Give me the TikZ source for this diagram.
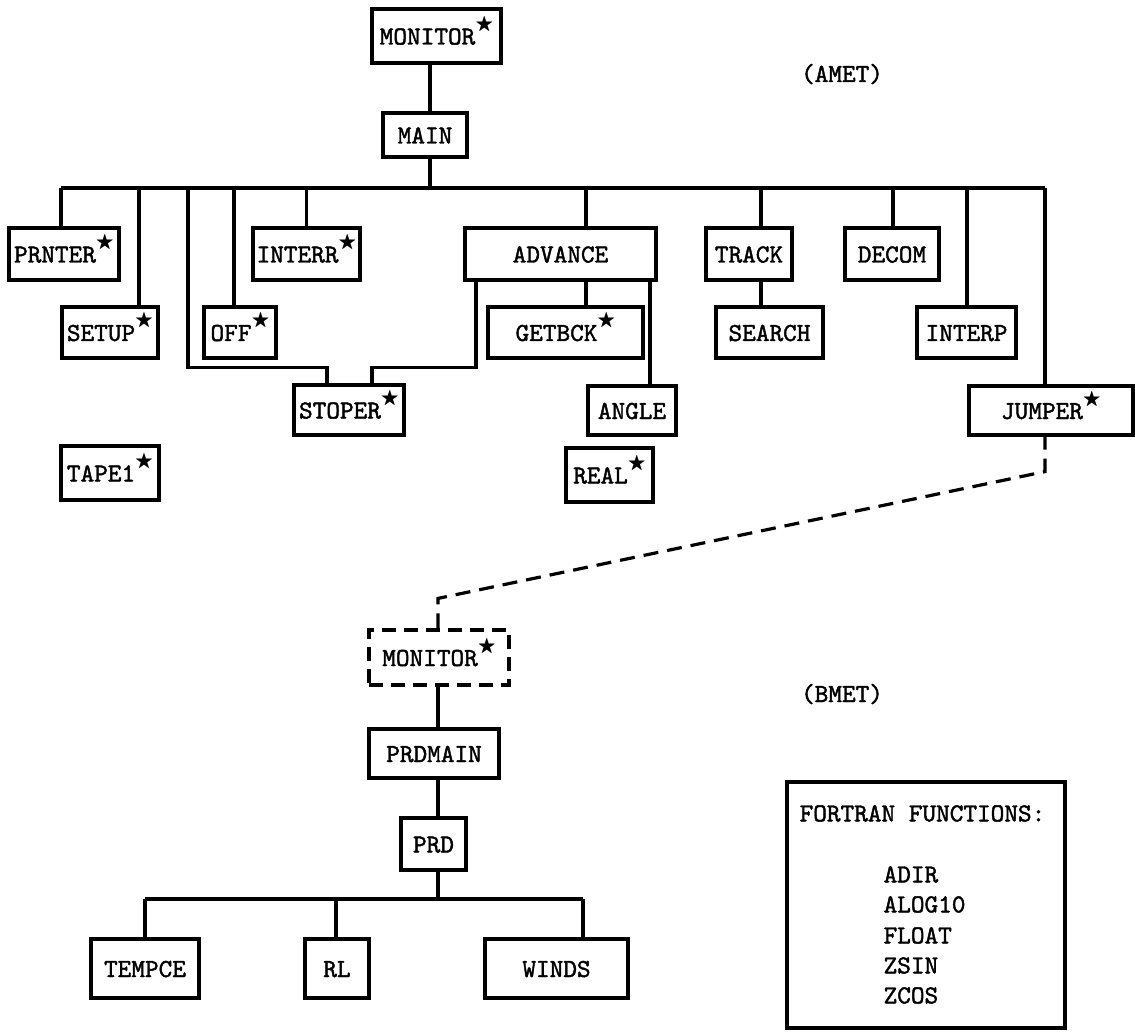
\documentclass[tikz,border=0pt]{standalone}
\usepackage{amssymb}
\usepackage{fontspec}
\newfontfamily\twfont{lmmono10-regular.otf}[FakeBold=1.6]
\newcommand\mytt{\fontsize{26}{30}\selectfont\twfont}
\newcommand\stmark{\raisebox{15pt}{\fontsize{19}{19}\selectfont$\bigstar$}}
\tikzset{
  box/.style={draw, line width=3.2pt, rectangle, inner sep=0pt,
    text height=17pt, text depth=0pt, font=\mytt},
  sz/.style 2 args={minimum width=#1pt, minimum height=#2pt},
  conn/.style={line width=3.2pt},
  dsh/.style={line width=3.2pt, dash pattern=on 15pt off 9pt},
  lbl/.style={font=\mytt, inner sep=0pt, anchor=base},
  fline/.style={font=\mytt, inner sep=0pt, anchor=base west},
}
\begin{document}
\begin{tikzpicture}[x=1pt,y=-1pt]
\useasboundingbox (0,0) rectangle (1135,1032);
% ---------- AMET ----------
\node[box, sz={129}{54}] (mon1) at (436.5,36) {MONITOR\stmark};
\node[box, sz={84}{44}] (main) at (425,135) {MAIN};
\node[lbl] (amet) at (842,82) {(AMET)};
\node[box, sz={110}{52}] (prnter) at (64,254) {PRNTER\stmark};
\node[box, sz={107}{52}] (interr) at (306.5,254) {INTERR\stmark};
\node[box, sz={191}{52}] (adv) at (560.5,254) {ADVANCE};
\node[box, sz={86}{52}] (track) at (749,254) {TRACK};
\node[box, sz={94}{52}] (decom) at (892,254) {DECOM};
\node[box, sz={96}{51}] (setup) at (110,332.5) {SETUP\stmark};
\node[box, sz={72}{51}] (off) at (240,332.5) {OFF\stmark};
\node[box, sz={155}{51}] (getbck) at (565.5,332.5) {GETBCK\stmark};
\node[box, sz={107}{51}] (search) at (769.5,332.5) {SEARCH};
\node[box, sz={99}{51}] (interp) at (966.5,332.5) {INTERP};
\node[box, sz={110}{50}] (stoper) at (349,410) {STOPER\stmark};
\node[box, sz={88}{49}] (angle) at (632,410.5) {ANGLE};
\node[box, sz={164}{49}] (jumper) at (1051,410.5) {JUMPER\stmark};
\node[box, sz={98}{54}] (tape) at (110,473) {TAPE1\stmark};
\node[box, sz={87}{54}] (real) at (609.5,475) {REAL\stmark};
\coordinate (b1L) at (61,188);
\coordinate (b1R) at (1045,188);
\coordinate (b1a) at (188,188);
\draw[conn] ([xshift=5pt]main.north) -- ([xshift=5pt]main.north |- mon1.south);
\draw[conn] ([xshift=5pt]main.south) -- ([xshift=5pt]main.south |- b1L);
\draw[conn] (b1L) -- (b1R);
\draw[conn] (b1L) -- (b1L |- prnter.north);
\draw[conn] ([xshift=29pt]setup.north) -- ([xshift=29pt]setup.north |- b1L);
\draw[conn] ([xshift=-6pt]off.north) -- ([xshift=-6pt]off.north |- b1L);
\draw[conn] ([xshift=-22pt]stoper.north) -- ++(0,-16) -| (b1a);
\draw[conn] ([xshift=23pt]stoper.north) -- ++(0,-16) -| ([xshift=-84.5pt]adv.south);
\draw[conn] (interr.north) -- (interr.north |- b1L);
\draw[conn] ([xshift=25.5pt]adv.north) -- ([xshift=25.5pt]adv.north |- b1L);
\draw[conn] ([xshift=20.5pt]getbck.north) -- ([xshift=20.5pt]getbck.north |- adv.south);
\draw[conn] ([xshift=18pt]angle.north) -- ([xshift=18pt]angle.north |- adv.south);
\draw[conn] ([xshift=12pt]track.north) -- ([xshift=12pt]track.north |- b1L);
\draw[conn] ([xshift=-8.5pt]search.north) -- ([xshift=-8.5pt]search.north |- track.south);
\draw[conn] ([xshift=1pt]decom.north) -- ([xshift=1pt]decom.north |- b1L);
\draw[conn] ([xshift=0.5pt]interp.north) -- ([xshift=0.5pt]interp.north |- b1L);
\draw[conn] ([xshift=-6pt]jumper.north) -- (b1R);
% ---------- BMET ----------
\node[box, sz={140}{55}, dash pattern=on 14pt off 8pt] (mon2) at (439,657.5) {MONITOR\stmark};
\node[lbl] (bmet) at (842,702) {(BMET)};
\node[box, sz={130}{49}] (prdmain) at (434,753.5) {PRDMAIN};
\node[box, sz={65}{52}] (prd) at (433.5,844) {PRD};
\node[box, sz={108}{59}] (tempce) at (145,968.5) {TEMPCE};
\node[box, sz={64}{59}] (rl) at (337,968.5) {RL};
\node[box, sz={143}{59}] (winds) at (556.5,968.5) {WINDS};
\draw[dsh] ([xshift=-1pt]mon2.north) -- ++(0,-30) -- ([xshift=-6pt,yshift=-35pt]jumper.south) -- ([xshift=-6pt]jumper.south);
\coordinate (b2L) at (145,899);
\coordinate (b2R) at (583,899);
\draw[conn] ([xshift=4pt]prdmain.north) -- ([xshift=4pt]prdmain.north |- mon2.south);
\draw[conn] ([xshift=4.5pt]prd.north) -- ([xshift=4.5pt]prd.north |- prdmain.south);
\draw[conn] ([xshift=4.5pt]prd.south) -- ([xshift=4.5pt]prd.south |- b2L);
\draw[conn] (b2L) -- (b2R);
\draw[conn] (tempce.north) -- (b2L);
\draw[conn] ([xshift=-1pt]rl.north) -- ([xshift=-1pt]rl.north |- b2L);
\draw[conn] ([xshift=26.5pt]winds.north) -- (b2R);
% ---------- Fortran functions ----------
\node[draw, line width=3.2pt, sz={278}{246}] (fbox) at (926,905) {};
\node[fline] (ftitle) at ([xshift=14pt,yshift=-41pt]fbox.north west) {FORTRAN FUNCTIONS:};
\node[fline] (f1) at ([xshift=98pt,yshift=-102pt]fbox.north west) {ADIR};
\node[fline] (f2) at ([xshift=98pt,yshift=-132pt]fbox.north west) {ALOG10};
\node[fline] (f3) at ([xshift=98pt,yshift=-163pt]fbox.north west) {FLOAT};
\node[fline] (f4) at ([xshift=98pt,yshift=-193pt]fbox.north west) {ZSIN};
\node[fline] (f5) at ([xshift=98pt,yshift=-223pt]fbox.north west) {ZCOS};
\end{tikzpicture}
\end{document}
